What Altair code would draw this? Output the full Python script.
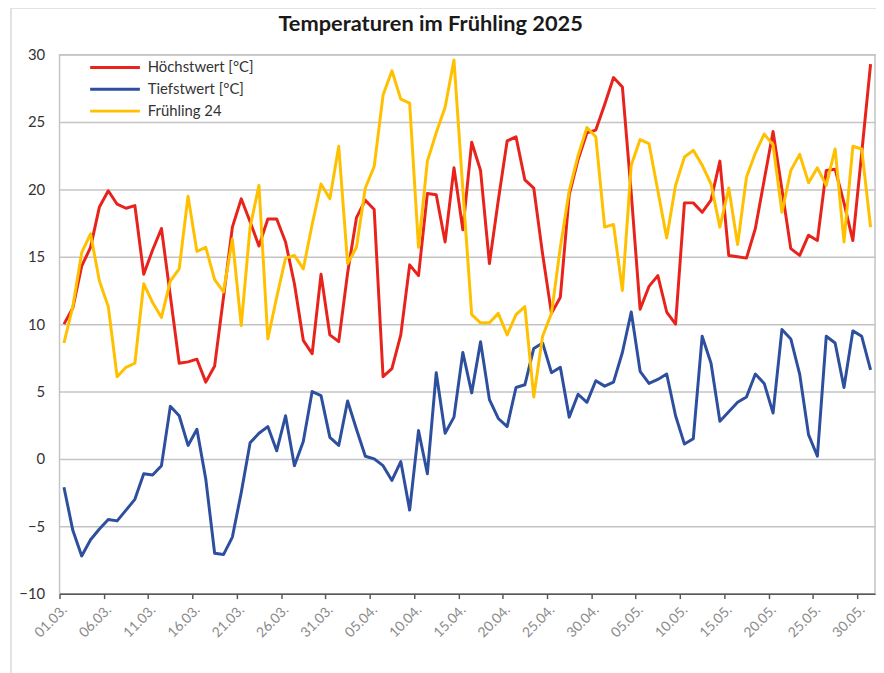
import altair as alt
import pandas as pd

# ---- data ----
TICK_LABELS = ["01.03.", "06.03.", "11.03.", "16.03.", "21.03.", "26.03.", "31.03.",
               "05.04.", "10.04.", "15.04.", "20.04.", "25.04.", "30.04.",
               "05.05.", "10.05.", "15.05.", "20.05.", "25.05.", "30.05."]
TICK_DAYS = [0, 5, 10, 15, 20, 25, 30, 35, 40, 45, 50, 55, 60, 65, 70, 75, 80, 85, 90]
SERIES = ["Höchstwert [°C]", "Tiefstwert [°C]", "Frühling 24"]
COLORS = ["#e8231c", "#2d4f9e", "#ffc000"]
WIDTHS = [3, 3, 1.3]

HOCH = [10.0, 11.2, 14.3, 15.7, 18.7, 19.9, 18.9, 18.6, 18.8, 13.7,
        15.5, 17.1, 12.1, 7.1, 7.2, 7.4, 5.7, 6.9, 12.0, 17.2,
        19.3, 17.6, 15.8, 17.8, 17.8, 16.1, 13.0, 8.8, 7.8, 13.7,
        9.2, 8.7, 13.8, 17.9, 19.2, 18.5, 6.1, 6.7, 9.2, 14.4,
        13.6, 19.7, 19.6, 16.1, 21.6, 17.0, 23.5, 21.4, 14.5, 19.2,
        23.6, 23.9, 20.7, 20.1, 15.2, 10.8, 12.0, 19.6, 22.2, 24.2,
        24.4, 26.3, 28.3, 27.6, 19.7, 11.1, 12.8, 13.6, 10.9, 10.0,
        19.0, 19.0, 18.3, 19.2, 22.1, 15.1, 15.0, 14.9, 17.1, 20.7,
        24.3, 20.0, 15.6, 15.1, 16.6, 16.2, 21.4, 21.5, 19.0, 16.2,
        22.7, 29.3]
TIEF = [-2.1, -5.3, -7.2, -6.0, -5.2, -4.5, -4.6, -3.8, -3.0, -1.1,
        -1.2, -0.5, 3.9, 3.2, 1.0, 2.2, -1.5, -7.0, -7.1, -5.8,
        -2.5, 1.2, 1.9, 2.4, 0.6, 3.2, -0.5, 1.3, 5.0, 4.7,
        1.6, 1.0, 4.3, 2.2, 0.2, 0.0, -0.5, -1.6, -0.2, -3.8,
        2.1, -1.1, 6.4, 1.9, 3.1, 7.9, 4.9, 8.7, 4.4, 3.0,
        2.4, 5.3, 5.5, 8.2, 8.6, 6.4, 6.8, 3.1, 4.8, 4.2,
        5.8, 5.4, 5.7, 7.9, 10.9, 6.5, 5.6, 5.9, 6.3, 3.2,
        1.1, 1.5, 9.1, 7.1, 2.8, 3.5, 4.2, 4.6, 6.3, 5.6,
        3.4, 9.6, 8.9, 6.3, 1.8, 0.2, 9.1, 8.6, 5.3, 9.5,
        9.1, 6.6]
FR24 = [8.6, 11.3, 15.3, 16.7, 13.2, 11.3, 6.1, 6.8, 7.1, 13.0,
        11.6, 10.5, 13.2, 14.1, 19.5, 15.4, 15.7, 13.3, 12.4, 16.3,
        9.9, 17.2, 20.3, 8.9, 12.0, 14.9, 15.1, 14.1, 17.4, 20.4,
        19.3, 23.2, 14.5, 15.7, 20.1, 21.7, 27.0, 28.8, 26.7, 26.4,
        15.7, 22.1, 24.2, 26.1, 29.6, 20.0, 10.7, 10.1, 10.1, 10.8,
        9.2, 10.7, 11.3, 4.6, 9.1, 10.8, 15.7, 19.9, 22.5, 24.6,
        23.9, 17.2, 17.4, 12.5, 21.8, 23.7, 23.4, 19.9, 16.4, 20.3,
        22.4, 22.9, 21.8, 20.4, 17.2, 20.1, 15.9, 20.9, 22.7, 24.1,
        23.3, 18.3, 21.4, 22.6, 20.5, 21.6, 20.3, 23.0, 16.1, 23.2,
        23.0, 17.2]
Y_TICKS = [-10, -5, 0, 5, 10, 15, 20, 25, 30]

rows = []
for k, (name, vals) in enumerate(zip(SERIES, [HOCH, TIEF, FR24])):
    for i, v in enumerate(vals):
        rows.append({"tag": i + 0.5, "wert": v, "reihe": name, "ord": k})
df = pd.DataFrame(rows)

FONT = "Lato"
label_expr = "{" + ",".join(f"'{d}':'{l}'" for d, l in zip(TICK_DAYS, TICK_LABELS)) + "}[''+datum.value]"

legend_cfg = dict(orient="none", legendX=46, legendY=3, title=None,
                  symbolType="M-3,0H3", symbolSize=280, labelFontSize=15,
                  labelFont=FONT, labelColor="#333333", rowPadding=4,
                  labelOffset=23, padding=0)

lines = alt.Chart(df).mark_line(strokeJoin="round").encode(
    x=alt.X("tag:Q",
            scale=alt.Scale(domain=[0, 92], nice=False, zero=False),
            axis=alt.Axis(values=TICK_DAYS, labelExpr=label_expr, title=None,
                          grid=False, domainColor="#595959", domainWidth=1.5,
                          tickColor="#595959", tickWidth=1.5, tickSize=5,
                          labelAngle=-45, labelAlign="right", labelBaseline="top",
                          labelPadding=4, labelColor="#8a8a8a", labelFontSize=14,
                          labelFont=FONT, labelOverlap=False)),
    y=alt.Y("wert:Q",
            scale=alt.Scale(domain=[-10, 30], nice=False, zero=False),
            axis=alt.Axis(values=Y_TICKS, title=None, grid=True, gridColor="#c4c4c4",
                          gridWidth=1.5, domain=False, ticks=False, labelPadding=15,
                          labelColor="#333333", labelFontSize=15, labelFont=FONT)),
    color=alt.Color("reihe:N", sort=SERIES,
                    scale=alt.Scale(domain=SERIES, range=COLORS),
                    legend=alt.Legend(**legend_cfg)),
    strokeWidth=alt.StrokeWidth("reihe:N", sort=SERIES,
                                scale=alt.Scale(domain=SERIES, range=WIDTHS),
                                legend=alt.Legend(**legend_cfg)),
    order="ord:Q",
    detail="reihe:N",
)

frame = alt.Chart(pd.DataFrame({"a": [0]})).mark_rect(
    fill=None, stroke="#d9d9d9", strokeWidth=1.5
).encode(x=alt.value(-49), x2=alt.value(840), y=alt.value(-47), y2=alt.value(640))

chart = alt.layer(frame, lines).properties(
    width=823, height=544,
    title=alt.TitleParams("Temperaturen im Frühling 2025", font=FONT, fontSize=22,
                          fontWeight="bold", color="#1a1a1a", anchor="middle",
                          frame="group", dx=-37, offset=-29),
    padding={"left": 52, "top": 44, "right": 1, "bottom": 77},
    autosize=alt.AutoSizeParams(type="none"),
).configure_view(stroke="#c4c4c4", strokeWidth=1.5)

chart.save("out.html", embed_options={"renderer": "svg", "actions": False})
